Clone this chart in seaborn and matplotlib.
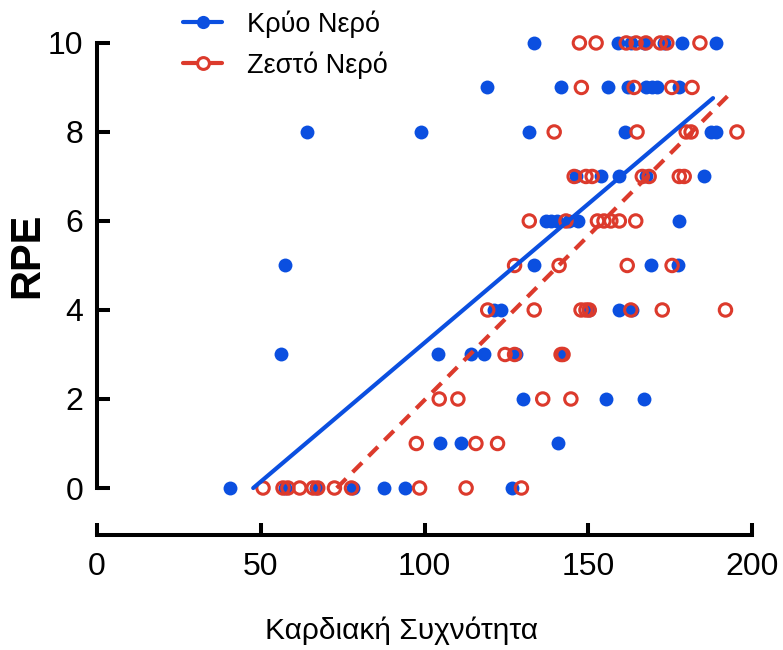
import matplotlib
matplotlib.use("Agg")
import matplotlib.pyplot as plt
from matplotlib.lines import Line2D
import numpy as np
import pandas as pd
import seaborn as sns

# values (heart rate vs RPE)
cold_hr = [133.5, 159, 163, 167, 173, 178.7, 189.1,
           119.2, 141.8, 155.9, 162, 167.7, 169.6, 171, 177.8,
           64.2, 99, 132, 161.3, 187.5, 189,
           146.3, 153.8, 159.5, 167.6, 185.3,
           137.1, 138.6, 140.6, 144.2, 146.8, 177.6,
           57.3, 133.5, 169.1, 177.3,
           121.3, 123.3, 150.1, 159.5, 163.3,
           56.3, 104, 114.2, 118.3, 128, 141.7,
           130.2, 155.3, 167,
           104.7, 111.2, 140.8,
           40.5, 57.3, 67, 78.1, 87.5, 94, 126.8]
cold_rpe = [10] * 7 + [9] * 8 + [8] * 6 + [7] * 5 + [6] * 6 + [5] * 4 + \
           [4] * 5 + [3] * 6 + [2] * 3 + [1] * 3 + [0] * 7

hot_hr = [147.3, 152.4, 161.6, 164.6, 167.6, 172, 174, 184.1,
          147.9, 164, 175.5, 181.7,
          139.6, 164.9, 179.9, 181.4, 195.4,
          145.7, 149.3, 151.2, 166.5, 168.6, 177.8, 179.3,
          132, 143.2, 152.8, 154.8, 156.9, 159.5, 164.5,
          127.5, 141.1, 161.9, 175.6,
          119.3, 133.5, 147.8, 149.3, 150.3, 163, 172.6, 191.9,
          124.6, 127.5, 141.7, 142.3,
          104.5, 110.2, 136.1, 144.7,
          97.5, 115.7, 122.3,
          50.7, 56.8, 58.3, 61.9, 66, 67.4, 72.5, 77.7, 98.5, 112.7, 129.6]
hot_rpe = [10] * 8 + [9] * 4 + [8] * 5 + [7] * 7 + [6] * 7 + [5] * 4 + \
          [4] * 8 + [3] * 4 + [2] * 4 + [1] * 3 + [0] * 11

# fitted lines (slope, intercept, x range)
cold_fit = (0.0624, -2.977)
cold_range = [47.7, 188.1]
hot_fit = (0.0738, -5.404)
hot_range = [73.2, 192.8]

labels = ["Κρύο Νερό", "Ζεστό Νερό"]
blue = "#0b4fe0"
red = "#dc3a2c"

df = pd.DataFrame({
    "hr": cold_hr + hot_hr,
    "rpe": cold_rpe + hot_rpe,
    "group": [labels[0]] * len(cold_hr) + [labels[1]] * len(hot_hr),
})

fit_rows = []
for lab, (m, b), xr in [(labels[0], cold_fit, cold_range), (labels[1], hot_fit, hot_range)]:
    for x in xr:
        fit_rows.append({"hr": x, "rpe": m * x + b, "group": lab})
fits = pd.DataFrame(fit_rows)

sns.set_theme(style="ticks")
plt.rcParams["font.family"] = ["Liberation Sans", "DejaVu Sans"]
plt.rcParams["text.color"] = "black"

W, H = 783, 650
fig = plt.figure(figsize=(W / 100, H / 100), dpi=100)
ax = fig.add_axes([97 / W, 1 - 535 / H, 655 / W, (535 - 29.6) / H])

cold = df[df.group == labels[0]]
hot = df[df.group == labels[1]]
sns.scatterplot(data=cold, x="hr", y="rpe", color=blue, s=100, linewidth=0,
                ax=ax, zorder=3, clip_on=False, legend=False)
sns.scatterplot(data=hot, x="hr", y="rpe", facecolor="none", edgecolor=red,
                s=80, linewidth=2.2, ax=ax, zorder=4, clip_on=False, legend=False)

sns.lineplot(data=fits[fits.group == labels[0]], x="hr", y="rpe", color=blue,
             lw=3.0, ax=ax, zorder=5, legend=False)
sns.lineplot(data=fits[fits.group == labels[1]], x="hr", y="rpe", color=red,
             lw=3.0, ax=ax, zorder=5, legend=False, dashes=False)
ax.lines[-1].set_dashes([3.2, 2.2])

ax.set_xlim(0, 200)
ax.set_ylim(-1.056, 10.3)
ax.set_xticks([0, 50, 100, 150, 200])
ax.set_yticks([0, 2, 4, 6, 8, 10])
ax.spines["top"].set_visible(False)
ax.spines["right"].set_visible(False)
ax.spines["left"].set_bounds(0, 10)
ax.spines["bottom"].set_bounds(0, 200)
for s in ("left", "bottom"):
    ax.spines[s].set_linewidth(2.9)
    ax.spines[s].set_color("black")
ax.tick_params(axis="both", direction="in", length=9, width=2.9, color="black",
               labelsize=23, labelcolor="black")
ax.tick_params(axis="y", pad=10)
ax.tick_params(axis="x", pad=12)

ax.set_xlabel("Καρδιακή Συχνότητα", fontsize=21.5, color="black", va="center")
ax.xaxis.set_label_coords(0.465, -0.19)
ax.set_ylabel("RPE", fontsize=30, fontweight="bold", color="black")
ax.yaxis.set_label_coords(-0.076, 0.554)

handles = [
    Line2D([], [], color=blue, lw=3.0, marker="o", markersize=9.5, markerfacecolor=blue,
           markeredgewidth=0),
    Line2D([], [], color=red, lw=3.0, marker="o", markersize=8.5, markerfacecolor="white",
           markeredgecolor=red, markeredgewidth=2.2),
]
leg = fig.legend(handles, labels, loc="upper left", bbox_to_anchor=(183 / W, 1 - 10 / H),
                 frameon=False, fontsize=19.5, borderpad=0, borderaxespad=0,
                 handlelength=1.45, handletextpad=0.9, labelspacing=0.5)
for t in leg.get_texts():
    t.set_color("black")

fig.savefig("out.png", dpi=100, facecolor="white")
